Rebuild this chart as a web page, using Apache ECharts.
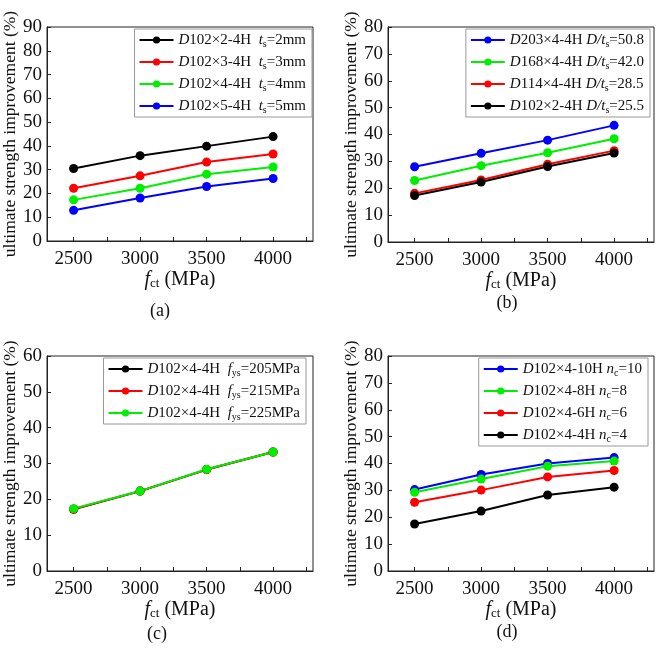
<!DOCTYPE html>
<html>
<head>
<meta charset="utf-8">
<script src="https://cdn.jsdelivr.net/npm/echarts@6/dist/echarts.min.js"></script>
<style>
html, body { margin: 0; padding: 0; background: #fff; }
#main { width: 660px; height: 648px; }
</style>
</head>
<body>
<div id="main"></div>
<script>
// shared x values (f_ct, MPa) and tick positions
const fct = [2500, 3000, 3500, 4000];
const xTickValues = [2500, 2750, 3000, 3250, 3500, 3750, 4000, 4250];

// (a) steel tube thickness t_s
const aSpecimens = ['D102×2-4H', 'D102×3-4H', 'D102×4-4H', 'D102×5-4H'];
const aParams = ['2mm', '3mm', '4mm', '5mm'];
const aValues = [
  [30.5, 35.9, 39.9, 43.9],
  [22.2, 27.4, 33.2, 36.6],
  [17.3, 22.2, 28.1, 31.1],
  [12.9, 18.1, 22.9, 26.3]
];

// (b) diameter-to-thickness ratio D/t_s
const bSpecimens = ['D203×4-4H', 'D168×4-4H', 'D114×4-4H', 'D102×2-4H'];
const bParams = ['50.8', '42.0', '28.5', '25.5'];
const bValues = [
  [28.0, 33.0, 37.9, 43.4],
  [22.9, 28.4, 33.2, 38.4],
  [18.1, 23.1, 28.9, 34.0],
  [17.3, 22.3, 28.1, 33.1]
];

// (c) steel yield strength f_ys
const cSpecimens = ['D102×4-4H', 'D102×4-4H', 'D102×4-4H'];
const cParams = ['205MPa', '215MPa', '225MPa'];
const cValues = [
  [17.2, 22.3, 28.3, 33.2],
  [17.3, 22.3, 28.3, 33.2],
  [17.4, 22.3, 28.4, 33.2]
];

// (d) number of bolts n_c
const dSpecimens = ['D102×4-10H', 'D102×4-8H', 'D102×4-6H', 'D102×4-4H'];
const dParams = ['10', '8', '6', '4'];
const dValues = [
  [30.3, 35.9, 40.0, 42.2],
  [29.3, 34.2, 39.0, 40.9],
  [25.6, 30.1, 35.0, 37.4],
  [17.5, 22.3, 28.3, 31.2]
];

const FONT = '"Liberation Serif", "Times New Roman", serif';

const panels = [
  { tag: '(a)', sym: 't', sub: 's', specimens: aSpecimens, params: aParams, values: aValues,
    colors: ['#000000', '#ff0000', '#00ee00', '#0000ff'], yMax: 90,
    grid: { left: 47, top: 27, width: 266, height: 214 }, nameGap: 23,
    legend: { right: 348, top: 29 }, label: [160, 311] },
  { tag: '(b)', sym: 'D/t', sub: 's', specimens: bSpecimens, params: bParams, values: bValues,
    colors: ['#0000ff', '#00ee00', '#ff0000', '#000000'], yMax: 80,
    grid: { left: 388, top: 27, width: 266, height: 215 }, nameGap: 27,
    legend: { right: 10, top: 29 }, label: [507, 303] },
  { tag: '(c)', sym: 'f', sub: 'ys', specimens: cSpecimens, params: cParams, values: cValues,
    colors: ['#000000', '#ff0000', '#00ee00'], yMax: 60,
    grid: { left: 47, top: 356, width: 266, height: 215 }, nameGap: 23,
    legend: { right: 354, top: 358 }, label: [157, 634] },
  { tag: '(d)', sym: 'n', sub: 'c', specimens: dSpecimens, params: dParams, values: dValues,
    colors: ['#0000ff', '#00ee00', '#ff0000', '#000000'], yMax: 80,
    grid: { left: 388, top: 356, width: 266, height: 215 }, nameGap: 27,
    legend: { right: 12, top: 358 }, label: [507, 632] }
];

const legendRich = {
  it: { fontFamily: FONT, fontStyle: 'italic', fontSize: 15, color: '#111', lineHeight: 18 },
  sub: { fontFamily: FONT, fontSize: 10, color: '#111', lineHeight: 18, verticalAlign: 'bottom', padding: [7, 0, 0, 0] }
};
const axisRich = {
  it: { fontFamily: FONT, fontStyle: 'italic', fontSize: 20, color: '#111' },
  sub: { fontFamily: FONT, fontSize: 13, color: '#111', verticalAlign: 'bottom', padding: [8, 0, 0, 0] }
};

const richMap = {};
const grids = [], xAxes = [], yAxes = [], legends = [], series = [], graphics = [];

panels.forEach((p, i) => {
  grids.push(Object.assign({ show: true, borderColor: '#222', borderWidth: 1 }, p.grid));
  xAxes.push({
    gridIndex: i, type: 'value', min: 2300, max: 4300,
    name: '{it|f}{sub|ct} (MPa)', nameLocation: 'middle', nameGap: 21,
    nameTextStyle: { fontFamily: FONT, fontSize: 20, color: '#111', rich: axisRich },
    axisLine: { show: true, lineStyle: { color: '#222', width: 1 } },
    axisTick: { show: true, inside: true, length: 4, customValues: xTickValues, lineStyle: { color: '#222' } },
    axisLabel: { customValues: fct, formatter: v => String(v), fontFamily: FONT, fontSize: 19, color: '#111', margin: 9 },
    splitLine: { show: false }
  });
  yAxes.push({
    gridIndex: i, type: 'value', min: 0, max: p.yMax, interval: 10,
    name: 'ultimate strength improvement (%)', nameLocation: 'middle', nameGap: p.nameGap,
    nameTextStyle: { fontFamily: FONT, fontSize: 17.5, color: '#111' },
    axisLine: { show: true, lineStyle: { color: '#222', width: 1 } },
    axisTick: { show: true, inside: true, length: 4, lineStyle: { color: '#222' } },
    axisLabel: { fontFamily: FONT, fontSize: 19, color: '#111', margin: 5 },
    splitLine: { show: false }
  });
  const names = [];
  p.specimens.forEach((spec, k) => {
    const name = spec + ' ' + p.sym + p.sub + '=' + p.params[k];
    const gap = p.sym === 't' || p.sym === 'f' ? '  ' : ' ';
    richMap[name] = '{it|D}' + spec.slice(1) + gap + '{it|' + p.sym + '}{sub|' + p.sub + '}=' + p.params[k];
    names.push(name);
    series.push({
      name: name, type: 'line', xAxisIndex: i, yAxisIndex: i,
      data: fct.map((x, j) => [x, p.values[k][j]]),
      symbol: 'circle', symbolSize: 9,
      lineStyle: { color: p.colors[k], width: 2 },
      itemStyle: { color: p.colors[k] }
    });
  });
  legends.push({
    orient: 'vertical', right: p.legend.right, top: p.legend.top,
    data: names, itemWidth: 34, itemHeight: 9, itemGap: 4,
    borderColor: '#999', borderWidth: 1, padding: [2, 6, 2, 4],
    textStyle: { fontFamily: FONT, fontSize: 15, color: '#111', lineHeight: 18, rich: legendRich },
    formatter: n => richMap[n]
  });
  graphics.push({
    type: 'text', x: p.label[0], y: p.label[1],
    style: { text: p.tag, font: '18px ' + FONT, fill: '#111', align: 'center', verticalAlign: 'middle' }
  });
});

const chart = echarts.init(document.getElementById('main'));
chart.setOption({
  animation: false,
  backgroundColor: '#fff',
  grid: grids,
  xAxis: xAxes,
  yAxis: yAxes,
  legend: legends,
  series: series,
  graphic: graphics
});
</script>
</body>
</html>
